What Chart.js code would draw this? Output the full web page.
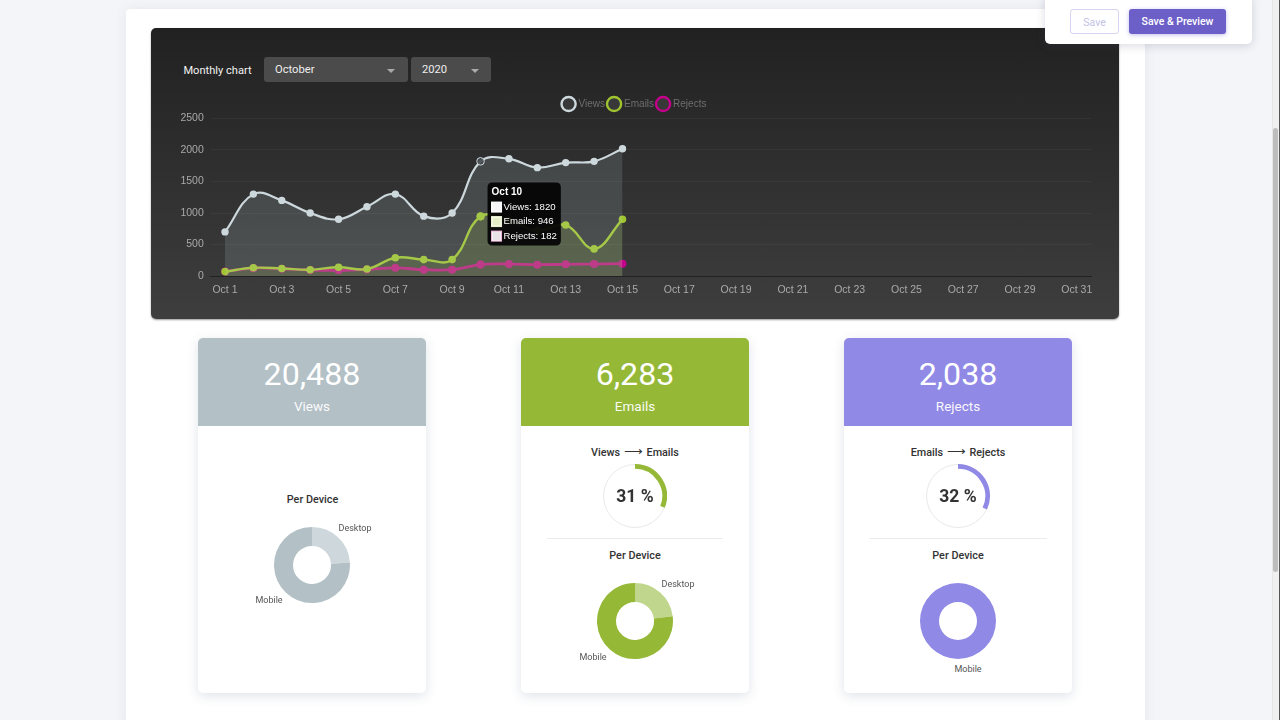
<!DOCTYPE html>
<html><head><meta charset="utf-8">
<script src="https://cdn.jsdelivr.net/npm/chart.js@4"></script>
<style>
html,body{margin:0;padding:0;width:1280px;height:720px;overflow:hidden;background:#f4f5f8;font-family:Roboto,sans-serif}
.abs{position:absolute}
.c{position:absolute;transform:translate(-50%,-50%);white-space:nowrap}
#page{left:126px;top:9px;width:1019px;height:720px;background:#fff;border-radius:4px;box-shadow:0 0 12px rgba(90,100,130,.10)}
#panel{left:151px;top:28px;width:968px;height:291px;border-radius:5px;background:linear-gradient(#212121 0%,#3e3e3e 100%);box-shadow:0 1px 2px rgba(0,0,0,.4)}
.sel{position:absolute;top:57px;height:25px;background:#4b4b4b;border-radius:3px;color:#eee;font-size:11.2px;line-height:26px;padding-left:11px;box-sizing:border-box}
.sel i{position:absolute;top:12px;width:0;height:0;border-left:4px solid transparent;border-right:4px solid transparent;border-top:4px solid #aaa}
.card{position:absolute;top:338px;width:228px;height:355px;background:#fff;border-radius:5px;box-shadow:0 3px 12px rgba(70,80,120,.16);overflow:hidden}
.head{position:absolute;left:0;top:0;width:228px;height:88px}
.num{color:#fff;font-size:32.2px;font-weight:400}
.sub{color:#fff;font-size:13.5px;opacity:.95}
.pd{font-size:10.8px;font-weight:500;color:#333}
.lb{font-size:9px;color:#555}
.flow{font-size:10.8px;font-weight:500;color:#333}
.flow span{font-size:13px;margin:0 1px}
.pct{font-size:17.5px;font-weight:700;color:#333}
.div{position:absolute;height:1px;background:#ececec;top:538px}
.ring{position:absolute;box-sizing:border-box;width:64px;height:64px;border:1px solid #e9e9e9;border-radius:50%}
canvas{position:absolute}
#float{left:1045px;top:-6px;width:207px;height:50px;background:#fff;border-radius:5px;box-shadow:0 2px 10px rgba(70,70,110,.2)}
.btn{position:absolute;top:9px;height:25px;border-radius:3px;box-sizing:border-box;font-size:10.5px;line-height:25px;text-align:center}
#thumb{left:1273px;top:128px;width:5px;height:444px;background:#bdbdbd;border-radius:3px}
#track{left:1272px;top:0;width:8px;height:720px;background:#f0f0f1;border-left:1px solid #e6e6e6;box-sizing:border-box}
#edge{left:1279px;top:0;width:1px;height:720px;background:#555}
</style></head><body>
<div class="abs" id="page"></div>
<div class="abs" id="track"></div><div class="abs" id="thumb"></div><div class="abs" id="edge"></div>
<div class="abs" id="panel"></div>
<div class="c" style="left:217.5px;top:69.5px;color:#f2f2f2;font-size:11.1px">Monthly chart</div>
<div class="sel" style="left:264px;width:144px">October<i style="left:123px"></i></div>
<div class="sel" style="left:411px;width:80px">2020<i style="left:60px"></i></div>
<canvas id="main" style="left:151px;top:90px;width:968px;height:225px"></canvas>

<div class="abs" id="float"></div>
<div class="btn" style="left:1070px;width:49px;border:1px solid #d7d3f0;background:#fff;color:#c3bfe8">Save</div>
<div class="btn" style="left:1129px;width:97px;background:#6c5fc7;color:#fff;font-weight:500;box-shadow:0 1px 4px rgba(108,95,199,.4)">Save &amp; Preview</div>

<div class="card" style="left:198px"><div class="head" style="background:#b3c0c6"></div></div>
<div class="card" style="left:521px"><div class="head" style="background:#95b837"></div></div>
<div class="card" style="left:844px"><div class="head" style="background:#9089e6"></div></div>

<div class="c num" style="left:312px;top:374px">20,488</div><div class="c sub" style="left:312px;top:406px">Views</div>
<div class="c num" style="left:635px;top:374px">6,283</div><div class="c sub" style="left:635px;top:406px">Emails</div>
<div class="c num" style="left:958px;top:374px">2,038</div><div class="c sub" style="left:958px;top:406px">Rejects</div>

<div class="c pd" style="left:312.5px;top:499px">Per Device</div>
<div class="c pd" style="left:635px;top:555px">Per Device</div>
<div class="c pd" style="left:958px;top:555px">Per Device</div>
<div class="c flow" style="left:635px;top:451px">Views <span>⟶</span> Emails</div>
<div class="c flow" style="left:958px;top:451px">Emails <span>⟶</span> Rejects</div>
<div class="div" style="left:547px;width:176px"></div>
<div class="div" style="left:869px;width:178px"></div>

<div class="ring" style="left:603px;top:464px"></div>
<div class="ring" style="left:926px;top:464px"></div>
<canvas id="g1" style="left:603px;top:464px;width:64px;height:64px"></canvas>
<canvas id="g2" style="left:926px;top:464px;width:64px;height:64px"></canvas>
<div class="c pct" style="left:635px;top:495.5px">31 %</div>
<div class="c pct" style="left:958px;top:495.5px">32 %</div>

<canvas id="d1" style="left:272px;top:525px;width:80px;height:80px"></canvas>
<canvas id="d2" style="left:595px;top:581px;width:80px;height:80px"></canvas>
<canvas id="d3" style="left:918px;top:581px;width:80px;height:80px"></canvas>
<div class="c lb" style="left:355px;top:527.5px">Desktop</div>
<div class="c lb" style="left:269px;top:599.5px">Mobile</div>
<div class="c lb" style="left:678px;top:583.5px">Desktop</div>
<div class="c lb" style="left:593px;top:656.5px">Mobile</div>
<div class="c lb" style="left:968px;top:668.5px">Mobile</div>

<script>
const days = ['Oct 1','Oct 2','Oct 3','Oct 4','Oct 5','Oct 6','Oct 7','Oct 8','Oct 9','Oct 10','Oct 11','Oct 12','Oct 13','Oct 14','Oct 15','Oct 16','Oct 17','Oct 18','Oct 19','Oct 20','Oct 21','Oct 22','Oct 23','Oct 24','Oct 25','Oct 26','Oct 27','Oct 28','Oct 29','Oct 30','Oct 31'];
const views = [700,1300,1200,1000,900,1100,1300,950,1000,1820,1860,1720,1800,1820,2020];
const emails = [70,130,120,100,140,110,290,260,260,946,880,720,810,430,900];
const rejects = [70,125,115,95,90,105,130,100,100,182,190,180,185,190,195];
const deviceLabels = ['Desktop','Mobile'];
const viewsDevice = [24,76];
const emailsDevice = [23,77];
const rejectsDevice = [0,100];
const viewsToEmails = [31,69];
const emailsToRejects = [32,68];

Chart.defaults.animation = false;
Chart.defaults.font.family = '"Liberation Sans",Arial,sans-serif';
const tipBoxes = [
  {borderColor:'#ffffff',backgroundColor:'#f4f6f7'},
  {borderColor:'#eef4d6',backgroundColor:'#e4edc6'},
  {borderColor:'#f3b6de',backgroundColor:'#e8e2e6'}
];
function line(label,data,color,fill,width,hoverFill){
  return {label,data,borderColor:color,backgroundColor:fill,pointBackgroundColor:color,pointBorderColor:color,
    fill:true,borderWidth:width,tension:.4,pointRadius:2.6,pointHoverRadius:3.8,pointHoverBorderWidth:1,
    pointHoverBackgroundColor:hoverFill,pointHoverBorderColor:color};
}
const legendPlace = {id:'legendPlace',
  beforeInit(c){const f=c.legend.fit;c.legend.fit=function(){f.call(this);this.height=28.5;};},
  afterLayout(c){const l=c.legend;l.left+=14;l.right+=14;l.top+=5;l.bottom+=5;}};
const chart = new Chart(document.getElementById('main'),{
  type:'line',
  plugins:[legendPlace],
  data:{labels:days,datasets:[
    line('Views',views,'#cdd8dd','rgba(205,225,230,.14)',2.2,'rgba(70,75,78,.9)'),
    line('Emails',emails,'#9fc42f','rgba(150,190,50,.17)',2.4,'#9fc42f'),
    line('Rejects',rejects,'#c4008c','rgba(194,29,143,.02)',2.8,'#c4008c')
  ]},
  options:{responsive:false,maintainAspectRatio:false,
    layout:{padding:{left:0,right:28,top:0,bottom:0}},
    interaction:{mode:'index',intersect:false},
    plugins:{
      legend:{position:'top',labels:{usePointStyle:true,pointStyle:'circle',boxWidth:15,boxHeight:15,padding:4,color:'#6e6e6e',font:{size:10},
        generateLabels(c){return c.data.datasets.map((d,i)=>({text:d.label,fillStyle:'rgba(80,80,80,.4)',strokeStyle:d.borderColor,lineWidth:2.4,pointStyle:'circle',datasetIndex:i,fontColor:'#6e6e6e'}));}
      }},
      tooltip:{backgroundColor:'rgba(5,5,5,.95)',cornerRadius:5,displayColors:true,boxWidth:10,boxHeight:10,boxPadding:0,padding:{x:4,y:3.75},
        titleFont:{size:10,weight:'bold'},bodyFont:{size:9.6},titleColor:'#fff',bodyColor:'#fff',titleMarginBottom:3,bodySpacing:3,
        caretSize:0,caretPadding:7,xAlign:'left',yAlign:'center',
        callbacks:{
          label(ctx){return ctx.dataset.label+': '+ctx.raw;},
          labelColor(ctx){return Object.assign({borderWidth:1},tipBoxes[ctx.datasetIndex]);}}}
    },
    scales:{
      x:{offset:true,grid:{display:false},border:{color:'#222'},afterFit(s){s.height=39;},
        ticks:{autoSkip:false,maxRotation:0,color:'#a9a9a9',font:{size:10.5},padding:0,callback(v,i){return i%2?'':days[i];}}},
      y:{min:0,max:2500,grid:{color:'rgba(255,255,255,.045)',drawTicks:false},border:{display:false},afterFit(s){s.width=59.8;},
        ticks:{stepSize:500,color:'#a9a9a9',font:{size:10.5},padding:7,callback(v){return String(v);}}}
    }
  }
});
const active=[0,1,2].map(d=>({datasetIndex:d,index:9}));
chart.setActiveElements(active);
chart.tooltip.setActiveElements(active,{x:chart.scales.x.getPixelForValue(9),y:chart.scales.y.getPixelForValue(983)});
chart.update();

function donut(id,data,colors){
  return new Chart(document.getElementById(id),{type:'doughnut',
    data:{labels:deviceLabels,datasets:[{data,backgroundColor:colors,borderWidth:0}]},
    options:{responsive:false,cutout:'50%',layout:{padding:2},plugins:{legend:{display:false},tooltip:{enabled:false}}}});
}
donut('d1',viewsDevice,['#ced8dc','#b3c0c6']);
donut('d2',emailsDevice,['#c0d68c','#95b837']);
donut('d3',rejectsDevice,['#c8c4f2','#9089e6']);
function gauge(id,data,color){
  return new Chart(document.getElementById(id),{type:'doughnut',
    data:{datasets:[{data,backgroundColor:[color,'rgba(0,0,0,0)'],borderWidth:0}]},
    options:{responsive:false,cutout:'85%',layout:{padding:0},plugins:{legend:{display:false},tooltip:{enabled:false}}}});
}
gauge('g1',viewsToEmails,'#95b837');
gauge('g2',emailsToRejects,'#9089e6');
</script>
</body></html>
